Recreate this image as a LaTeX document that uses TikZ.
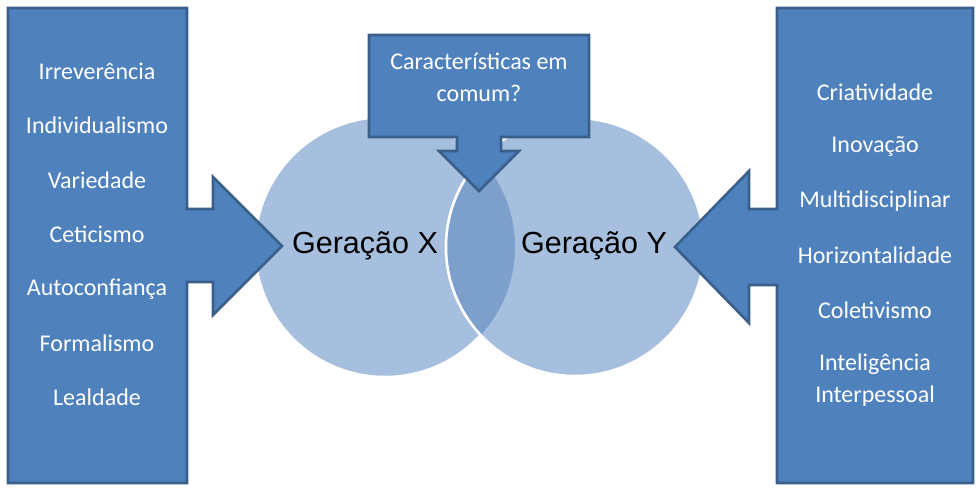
\documentclass[tikz,border=0pt]{standalone}
\usepackage{fontspec}
\setmainfont{Carlito}
\newfontfamily\arialf{Liberation Sans}
\definecolor{boxfill}{HTML}{4F81BD}
\definecolor{boxline}{HTML}{3A5F8B}
\definecolor{circfill}{HTML}{A7BFDE}
\definecolor{lensfill}{HTML}{7C9FCB}
\tikzset{
  callout/.style={fill=boxfill, draw=boxline, line width=2.6pt, line join=miter},
  item/.style={text=white, font=\fontsize{24}{28}\selectfont, anchor=center, inner sep=0pt},
  gen/.style={text=black, font=\arialf\fontsize{30.5}{34}\selectfont, anchor=center, inner sep=0pt},
  circ/.style={fill=circfill, draw=white, line width=2.5pt}
}
\begin{document}
\begin{tikzpicture}[x=1pt,y=-1pt]
\useasboundingbox (0,0) rectangle (976,488);
% circles
\coordinate (cx) at (385,247);
\coordinate (cy) at (575,247);
\draw[circ] (cx) circle[radius=130];
\draw[circ] (cy) circle[radius=129];
\begin{scope}
  \clip (cx) circle[radius=130];
  \draw[circ, fill=lensfill] (cy) circle[radius=129];
\end{scope}
% left callout
\draw[callout] (8,8) -- (187,8) -- (187,209) -- (213,209) -- (213,177) -- (282,246)
  -- (213,315) -- (213,282) -- (187,282) -- (187,483) -- (8,483) -- cycle;
% right callout
\draw[callout] (777,8) -- (973,8) -- (973,483) -- (777,483) -- (777,285) -- (749,285)
  -- (749,323) -- (675,247) -- (749,171) -- (749,209) -- (777,209) -- cycle;
% top callout
\draw[callout] (369,35) -- (589,35) -- (589,137) -- (501,137) -- (501,151) -- (519,151)
  -- (479,191) -- (439,151) -- (457,151) -- (457,137) -- (369,137) -- cycle;
% texts
\node[item] (l1) at (97,71) {Irreverência};
\node[item] (l2) at (97,125) {Individualismo};
\node[item] (l3) at (97,180) {Variedade};
\node[item] (l4) at (97,234) {Ceticismo};
\node[item] (l5) at (97,289) {Autoconfiança};
\node[item] (l6) at (97,343) {Formalismo};
\node[item] (l7) at (97,397) {Lealdade};
\node[item] (r1) at (875,92) {Criatividade};
\node[item] (r2) at (875,146) {Inovação};
\node[item] (r3) at (875,201) {Multidisciplinar};
\node[item] (r4) at (875,255) {Horizontalidade};
\node[item] (r5) at (875,310) {Coletivismo};
\node[item] (r6) at (875,364) {Inteligência};
\node[item] (r7) at (875,396) {Interpessoal};
\node[item] (t1) at (479,61) {Características em};
\node[item] (t2) at (479,93) {comum?};
\node[gen] (gx) at (365,246) {Geração X};
\node[gen] (gy) at (594,246) {Geração Y};
\end{tikzpicture}
\end{document}
